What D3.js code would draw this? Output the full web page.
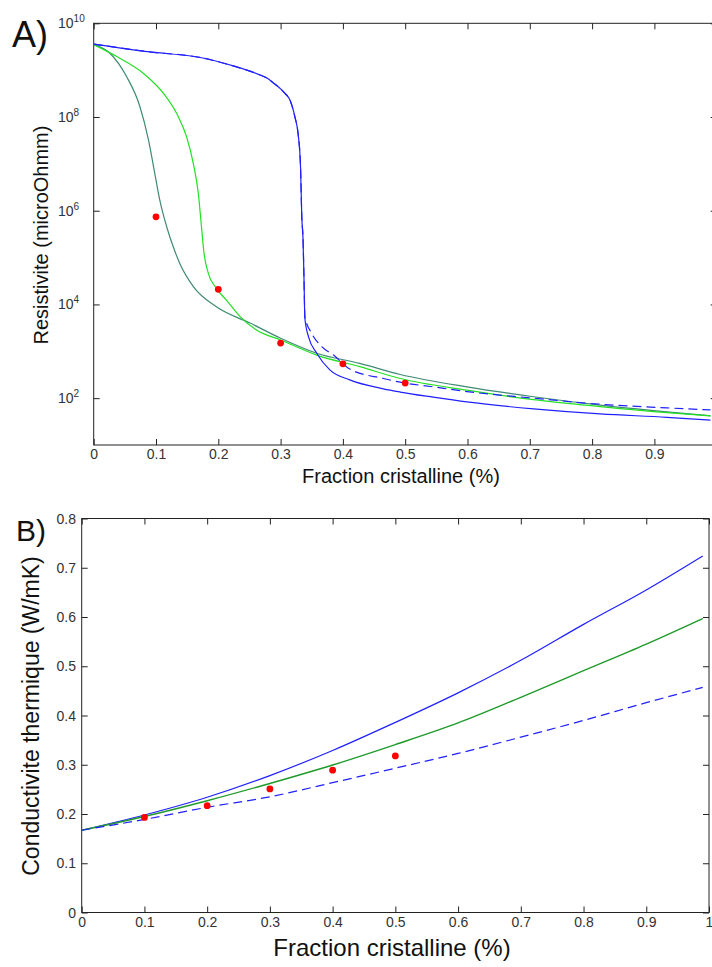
<!DOCTYPE html>
<html>
<head>
<meta charset="utf-8">
<script src="https://cdn.jsdelivr.net/npm/d3@7"></script>
<style>
  body { margin: 0; background: #fff; }
  svg { display: block; }
  text { font-family: "Liberation Sans", Arial, sans-serif; }
</style>
</head>
<body>
<svg id="chart" width="712" height="967"></svg>
<script>
/*==== A) resistivite ====*/
var fracA_teal = [0, 0.026, 0.053, 0.074, 0.088, 0.098, 0.106, 0.117, 0.13, 0.138, 0.16, 0.197, 0.251, 0.30, 0.358, 0.427, 0.492, 0.599, 0.706, 0.813, 0.92, 0.99];
var resA_teal  = [3.5e9, 2.3e9, 7.2e8, 1.7e8, 3.2e7, 6.3e6, 1.7e6, 4.6e5, 1.4e5, 7.6e4, 2.4e4, 8.9e3, 4.0e3, 1.9e3, 910, 550, 320, 174, 107, 71, 51, 42];

var fracA_green = [0, 0.037, 0.08, 0.112, 0.133, 0.149, 0.16, 0.168, 0.173, 0.177, 0.184, 0.197, 0.213, 0.235, 0.262, 0.30, 0.358, 0.427, 0.492, 0.599, 0.706, 0.813, 0.92, 0.99];
var resA_green  = [3.5e9, 1.95e9, 8.5e8, 3.2e8, 1.2e8, 3.8e7, 1.0e7, 2.3e6, 4.6e5, 1.26e5, 4.6e4, 2.2e4, 1.23e4, 5.5e3, 2.8e3, 1.74e3, 830, 470, 263, 148, 93, 66, 49, 42];

var fracA_blue = [0, 0.09, 0.171, 0.224, 0.267, 0.278, 0.288, 0.299, 0.307, 0.315, 0.323, 0.328, 0.332, 0.334, 0.336, 0.3376, 0.339, 0.345, 0.358, 0.379, 0.411, 0.465, 0.492, 0.545, 0.599, 0.706, 0.813, 0.92, 0.99];
var resA_blue  = [3.6e9, 2.45e9, 1.86e9, 1.23e9, 7.9e8, 6.8e8, 5.4e8, 4.1e8, 3.2e8, 2.3e8, 1.0e8, 4.5e7, 8.7e6, 7.4e5, 2.5e5, 3.3e4, 5.0e3, 2.0e3, 910, 400, 245, 158, 135, 105, 83, 59, 46, 39, 34];

var fracA_dash = [0, 0.09, 0.171, 0.224, 0.267, 0.278, 0.288, 0.299, 0.307, 0.315, 0.323, 0.328, 0.332, 0.334, 0.336, 0.3376, 0.339, 0.35, 0.366, 0.385, 0.411, 0.465, 0.492, 0.545, 0.599, 0.706, 0.813, 0.92, 0.99];
var resA_dash  = [3.6e9, 2.45e9, 1.86e9, 1.23e9, 7.9e8, 6.8e8, 5.4e8, 4.1e8, 3.2e8, 2.3e8, 1.0e8, 4.5e7, 8.7e6, 7.4e5, 2.5e5, 3.3e4, 5.5e3, 2.4e3, 1.26e3, 830, 417, 263, 219, 174, 138, 100, 74, 62, 56];

var measFracA = [0.1, 0.2, 0.3, 0.4, 0.5];
var measResA  = [7.4e5, 2.1e4, 1.5e3, 540, 210];

var ticksA_x = [0, 0.1, 0.2, 0.3, 0.4, 0.5, 0.6, 0.7, 0.8, 0.9];
var expsA_y  = [2, 4, 6, 8, 10];

/*==== B) conductivite ====*/
var fracB       = [0, 0.1, 0.2, 0.3, 0.4, 0.5, 0.6, 0.7, 0.8, 0.9, 0.99];
var condB_blue  = [0.167, 0.198, 0.234, 0.278, 0.329, 0.386, 0.446, 0.512, 0.585, 0.655, 0.724];
var condB_green = [0.167, 0.195, 0.227, 0.262, 0.2995, 0.341, 0.385, 0.437, 0.491, 0.545, 0.597];
var condB_dash  = [0.167, 0.189, 0.2136, 0.235, 0.2636, 0.293, 0.323, 0.356, 0.39, 0.426, 0.457];

var measFracB = [0.1, 0.2, 0.3, 0.4, 0.5];
var measCondB = [0.193, 0.217, 0.251, 0.289, 0.318];

var ticksB_x = [0, 0.1, 0.2, 0.3, 0.4, 0.5, 0.6, 0.7, 0.8, 0.9, 1];
var ticksB_y = [0, 0.1, 0.2, 0.3, 0.4, 0.5, 0.6, 0.7, 0.8];

var ink = "#222";
var labelInk = "#333";
var cTeal = "#3f8a74", cGreen = "#22e022", cBlue = "#2020ff", cRed = "#ff0000";

var svg = d3.select("#chart");

function zip(xs, ys) {
    return xs.map(function (d, i) { return [d, ys[i]]; });
}

// ticks pointing inside, matlab style
function frame(g, x, y, yTicks, xTicks, pad) {
    var x0 = x.range()[0], x1 = x.range()[1];
    var y0 = y.range()[0], y1 = y.range()[1];

    g.append("rect")
        .attr("x", x0).attr("y", y1)
        .attr("width", x1 - x0).attr("height", y0 - y1)
        .attr("fill", "none").attr("stroke", ink).attr("stroke-width", 1);

    var bottom = g.append("g").attr("transform", "translate(0," + y0 + ")")
        .call(d3.axisBottom(x).tickValues(xTicks).tickSizeInner(-6).tickSizeOuter(0).tickPadding(pad)
            .tickFormat(function (d) { return d; }));
    var top = g.append("g").attr("transform", "translate(0," + y1 + ")")
        .call(d3.axisTop(x).tickValues(xTicks).tickSizeInner(-6).tickSizeOuter(0).tickFormat(""));
    var left = g.append("g").attr("transform", "translate(" + x0 + ",0)")
        .call(d3.axisLeft(y).tickValues(yTicks).tickSizeInner(-6).tickSizeOuter(0).tickFormat(""));
    var right = g.append("g").attr("transform", "translate(" + x1 + ",0)")
        .call(d3.axisRight(y).tickValues(yTicks).tickSizeInner(-6).tickSizeOuter(0).tickFormat(""));

    [bottom, top, left, right].forEach(function (a) {
        a.select(".domain").remove();
        a.selectAll("line").attr("stroke", ink);
    });
    bottom.selectAll("text")
        .attr("font-size", 14).attr("fill", labelInk)
        .style("font-family", "'Liberation Sans', Arial, sans-serif");
}

/*==== A ====*/
var xA = d3.scaleLinear().domain([0, 1]).range([93.7, 716.7]);
var yA = d3.scaleLog().domain([10, 1e10]).range([445, 23.3]);

var gA = svg.append("g");
frame(gA, xA, yA, expsA_y.map(function (e) { return Math.pow(10, e); }), ticksA_x, 4);

expsA_y.forEach(function (e) {
    var t = gA.append("text")
        .attr("x", 58).attr("y", yA(Math.pow(10, e)) + 5)
        .attr("font-size", 14).attr("fill", labelInk);
    t.append("tspan").text("10");
    t.append("tspan").attr("dy", -6).attr("font-size", 10).text(e);
});

var lineA = d3.line()
    .x(function (d) { return xA(d[0]); })
    .y(function (d) { return yA(d[1]); })
    .curve(d3.curveMonotoneX);

gA.append("path").datum(zip(fracA_teal, resA_teal))
    .attr("d", lineA).attr("fill", "none").attr("stroke", cTeal).attr("stroke-width", 1.2);
gA.append("path").datum(zip(fracA_green, resA_green))
    .attr("d", lineA).attr("fill", "none").attr("stroke", cGreen).attr("stroke-width", 1.2);
gA.append("path").datum(zip(fracA_blue, resA_blue))
    .attr("d", lineA).attr("fill", "none").attr("stroke", cBlue).attr("stroke-width", 1.2);
gA.append("path").datum(zip(fracA_dash, resA_dash))
    .attr("d", lineA).attr("fill", "none").attr("stroke", cBlue).attr("stroke-width", 1.2)
    .attr("stroke-dasharray", "9,5");

gA.selectAll(".dotA").data(zip(measFracA, measResA)).enter().append("circle")
    .attr("class", "dotA")
    .attr("cx", function (d) { return xA(d[0]); })
    .attr("cy", function (d) { return yA(d[1]); })
    .attr("r", 3.4).attr("fill", cRed);

gA.append("text").attr("x", 401).attr("y", 483).attr("text-anchor", "middle")
    .attr("font-size", 20).attr("fill", "#111").text("Fraction cristalline (%)");
gA.append("text").attr("transform", "translate(48,235) rotate(-90)").attr("text-anchor", "middle")
    .attr("font-size", 20).attr("fill", "#111").text("Resistivite (microOhmm)");
gA.append("text").attr("x", 12).attr("y", 47)
    .attr("font-size", 36).attr("fill", "#111").text("A)");

/*==== B ====*/
var xB = d3.scaleLinear().domain([0, 1]).range([81.7, 709]);
var yB = d3.scaleLinear().domain([0, 0.8]).range([912.5, 518.5]);

var gB = svg.append("g");
frame(gB, xB, yB, ticksB_y, ticksB_x, 5);

gB.selectAll(".ylabB").data(ticksB_y).enter().append("text")
    .attr("class", "ylabB")
    .attr("x", 76).attr("y", function (d) { return yB(d) + 5; })
    .attr("text-anchor", "end").attr("font-size", 14).attr("fill", labelInk)
    .text(function (d) { return d; });

var lineB = d3.line()
    .x(function (d) { return xB(d[0]); })
    .y(function (d) { return yB(d[1]); })
    .curve(d3.curveMonotoneX);

gB.append("path").datum(zip(fracB, condB_blue))
    .attr("d", lineB).attr("fill", "none").attr("stroke", cBlue).attr("stroke-width", 1.2);
gB.append("path").datum(zip(fracB, condB_green))
    .attr("d", lineB).attr("fill", "none").attr("stroke", "#1f9a2a").attr("stroke-width", 1.4);
gB.append("path").datum(zip(fracB, condB_dash))
    .attr("d", lineB).attr("fill", "none").attr("stroke", cBlue).attr("stroke-width", 1.2)
    .attr("stroke-dasharray", "9,5");

gB.selectAll(".dotB").data(zip(measFracB, measCondB)).enter().append("circle")
    .attr("class", "dotB")
    .attr("cx", function (d) { return xB(d[0]); })
    .attr("cy", function (d) { return yB(d[1]); })
    .attr("r", 3.4).attr("fill", cRed);

gB.append("text").attr("x", 392).attr("y", 956).attr("text-anchor", "middle")
    .attr("font-size", 24).attr("fill", "#111").text("Fraction cristalline (%)");
gB.append("text").attr("transform", "translate(39,716) rotate(-90)").attr("text-anchor", "middle")
    .attr("font-size", 23).attr("fill", "#111").text("Conductivite thermique (W/mK)");
gB.append("text").attr("x", 16).attr("y", 541)
    .attr("font-size", 30).attr("fill", "#111").text("B)");
</script>
</body>
</html>
